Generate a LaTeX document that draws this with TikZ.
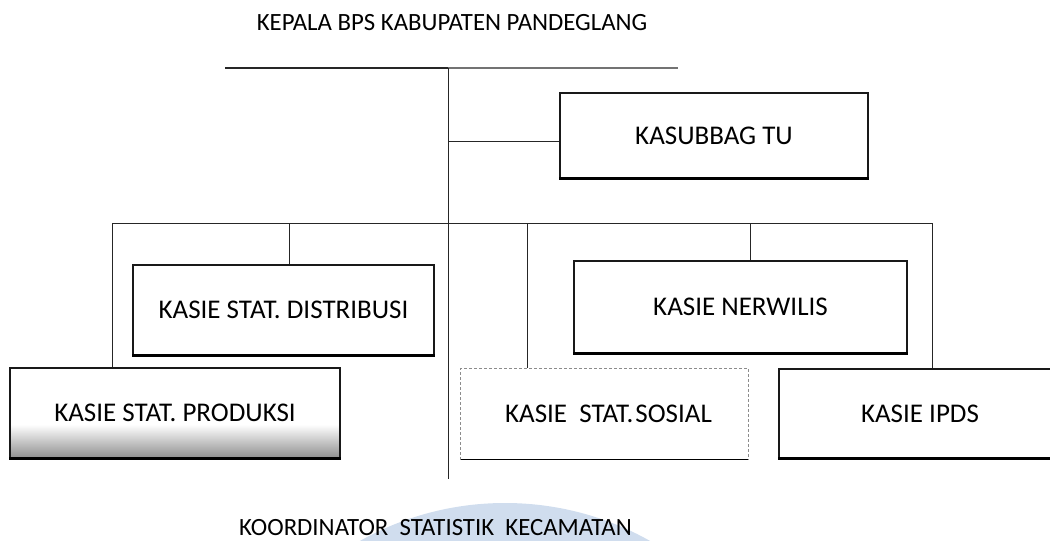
\documentclass[tikz,border=0pt]{standalone}
\usepackage{fontspec}
\setmainfont{Carlito}
\usetikzlibrary{backgrounds}
\definecolor{wmblue}{RGB}{208,221,238}
\tikzset{
  unitbox/.style={draw=black!90, line width=1.1pt, rectangle, inner sep=0pt,
    font=\fontsize{27}{31}\selectfont},
  conn/.style={draw=black!85, line width=0.9pt},
  heavybottom/.style={draw=black, line width=2.4pt},
  faint/.style={draw=black!45, line width=0.9pt, densely dashed},
  lbl/.style={inner sep=0pt, font=\fontsize{24.8}{29}\selectfont}
}
\begin{document}
\begin{tikzpicture}[x=1pt,y=-1pt]
\useasboundingbox (0,0) rectangle (1050,541);
\clip (0,0) rectangle (1050,541);

% titles
\node[lbl] (kepala) at (452,22.5) {KEPALA BPS KABUPATEN PANDEGLANG};

% boxes
\node[unitbox, minimum width=308pt, minimum height=85pt] (tu) at (714,135.5) {KASUBBAG TU};
\node[unitbox, minimum width=301pt, minimum height=90pt] (dist) at (283.5,310) {KASIE STAT. DISTRIBUSI};
\node[unitbox, minimum width=330pt, minimum height=90pt] (prod) at (175,413) {KASIE STAT. PRODUKSI};
\node[unitbox, draw=none, minimum width=287pt, minimum height=90pt] (sos) at (604.5,414) {\hspace{8pt}KASIE\ \ STAT.\kern2pt SOSIAL};
\node[unitbox, minimum width=282pt, minimum height=89pt] (ipds) at (920,413.5) {\raisebox{-3pt}{KASIE IPDS}};
\node[unitbox, minimum width=333pt, minimum height=92pt] (ner) at (740.5,307) {KASIE NERWILIS};

% heavy bottom edges (scan look)
\draw[heavybottom] (tu.south west) -- (tu.south east);
\draw[heavybottom] (dist.south west) -- (dist.south east);
\draw[heavybottom] (prod.south west) -- (prod.south east);
\draw[heavybottom] (ner.south west) -- (ner.south east);
\draw[heavybottom] (ipds.south west) -- (ipds.south east);
\draw[heavybottom, line width=1.8pt] (sos.south west) -- (sos.south east);
\draw[faint] (sos.south west) -- (sos.north west) -- (sos.north east) -- (sos.south east);

\begin{scope}[on background layer]
  \fill[wmblue] (505,799) circle (296);
  \shade[top color=white, bottom color=black!45]
    (prod.south west) rectangle ([yshift=34pt]prod.south east);
\end{scope}

% connector coordinates
\coordinate (tl) at (225,68);
\coordinate (tm) at (448,68);
\coordinate (tr) at (678,68);
\coordinate (bot) at (448,479);
\coordinate (jtu) at (448,141);
\coordinate (busL) at (112,223);
\coordinate (busR) at (932,223);
\coordinate (jdist) at (289,223);
\coordinate (jsos) at (527,223);
\coordinate (jner) at (750,223);

% top line
\draw[draw=black!85, line width=2.2pt] (tl) -- (tm);
\draw[draw=black!55, line width=1.6pt] (tm) -- (tr);

% main trunk
\draw[conn] (tm) -- (bot);
\draw[conn] (jtu) -- (jtu -| tu.west);

% bus
\draw[conn] (busL) -- (busR);
\draw[conn] (busL) -- (busL |- prod.north);
\draw[conn] (jdist) -- (jdist |- dist.north);
\draw[conn] (jsos) -- (jsos |- sos.north);
\draw[conn] (jner) -- (jner |- ner.north);
\draw[conn] (busR) -- (busR |- ipds.north);

\node[lbl, anchor=base, text depth=0pt] (koord) at (435.5,535.5) {KOORDINATOR\ \ STATISTIK\ \ KECAMATAN};
\end{tikzpicture}
\end{document}
